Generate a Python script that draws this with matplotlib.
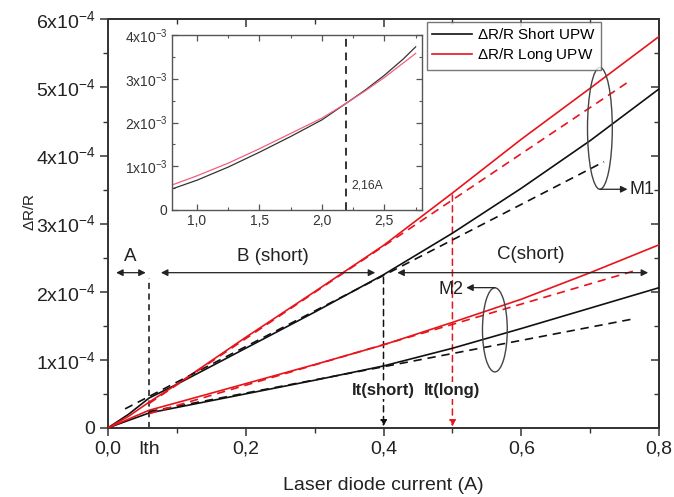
import matplotlib
matplotlib.use('Agg')
import matplotlib.pyplot as plt
from matplotlib.patches import Ellipse
from matplotlib.ticker import MultipleLocator, FuncFormatter
import numpy as np

plt.rcParams['font.family'] = ['Liberation Sans', 'DejaVu Sans']
plt.rcParams['mathtext.default'] = 'regular'

# ---------------- data (dR/R in units of 1e-4) ----------------
x_cur = [0.0, 0.03, 0.06, 0.10, 0.20, 0.30, 0.40, 0.50, 0.60, 0.70, 0.80]
short_m1 = [0.0, 0.20, 0.44, 0.64, 1.17, 1.70, 2.25, 2.86, 3.52, 4.22, 4.98]
long_m1 = [0.0, 0.17, 0.38, 0.64, 1.33, 2.00, 2.68, 3.45, 4.24, 4.99, 5.75]
short_m2 = [0.0, 0.11, 0.22, 0.30, 0.50, 0.70, 0.91, 1.17, 1.46, 1.76, 2.06]
long_m2 = [0.0, 0.13, 0.26, 0.37, 0.65, 0.93, 1.22, 1.55, 1.89, 2.28, 2.69]

fit_short_m1_x = [0.025, 0.72]
fit_short_m1_y = [0.28, 3.91]
fit_long_m1_x = [0.06, 0.755]
fit_long_m1_y = [0.36, 5.08]
fit_short_m2_x = [0.06, 0.762]
fit_short_m2_y = [0.24, 1.60]
fit_long_m2_x = [0.06, 0.765]
fit_long_m2_y = [0.21, 2.31]

i_th = 0.06
it_short = 0.40
it_long = 0.50

# inset (dR/R in units of 1e-3)
x_ins = [0.8, 1.0, 1.25, 1.5, 1.75, 2.0, 2.2, 2.35, 2.5, 2.65, 2.75]
short_ins = [0.48, 0.68, 0.98, 1.32, 1.68, 2.06, 2.45, 2.75, 3.08, 3.45, 3.73]
long_ins = [0.57, 0.78, 1.07, 1.40, 1.75, 2.10, 2.45, 2.73, 3.03, 3.36, 3.58]
ins_vline = 2.195

SC = 1e-4
RED = '#e8141c'
BLK = '#111111'
SPC = '#333333'

fig = plt.figure(figsize=(6.74, 4.97), dpi=100)
ax = fig.add_axes([0.160, 0.139, 0.818, 0.822])

def sc(v, s=SC):
    return [a * s for a in v]

ax.plot(x_cur, sc(short_m1), color=BLK, lw=1.2, label=r'$\Delta$R/R Short UPW', zorder=3)
ax.plot(x_cur, sc(long_m1), color=RED, lw=1.2, label=r'$\Delta$R/R Long UPW', zorder=3)
ax.plot(x_cur, sc(short_m2), color=BLK, lw=1.2, zorder=3)
ax.plot(x_cur, sc(long_m2), color=RED, lw=1.2, zorder=3)

dash = (0, (5, 3.5))
ax.plot(fit_short_m1_x, sc(fit_short_m1_y), color=BLK, lw=1.2, ls=dash, zorder=3)
ax.plot(fit_long_m1_x, sc(fit_long_m1_y), color=RED, lw=1.2, ls=dash, zorder=3)
ax.plot(fit_short_m2_x, sc(fit_short_m2_y), color=BLK, lw=1.2, ls=dash, zorder=3)
ax.plot(fit_long_m2_x, sc(fit_long_m2_y), color=RED, lw=1.2, ls=dash, zorder=3)

ax.set_xlim(0, 0.8)
ax.set_ylim(0, 6e-4)

ax.xaxis.set_major_locator(MultipleLocator(0.2))
ax.xaxis.set_minor_locator(MultipleLocator(0.1))
ax.yaxis.set_major_locator(MultipleLocator(1e-4))
ax.yaxis.set_minor_locator(MultipleLocator(0.5e-4))
ax.xaxis.set_major_formatter(FuncFormatter(lambda v, p: ('%.1f' % v).replace('.', ',')))

def yfmt(v, p):
    n = int(round(v / 1e-4))
    return '0' if n == 0 else '%dx10$^{-4}$' % n
ax.yaxis.set_major_formatter(FuncFormatter(yfmt))
ax.tick_params(which='major', direction='out', length=6, width=1.1, labelsize=14, color=SPC,
               labelcolor='#222222', pad=3)
ax.tick_params(which='minor', direction='out', length=3.5, width=1.0, color=SPC)
for s in ax.spines.values():
    s.set_color(SPC)
    s.set_linewidth(1.4)

secx = ax.secondary_xaxis('top')
secx.xaxis.set_major_locator(MultipleLocator(0.2))
secx.xaxis.set_minor_locator(MultipleLocator(0.1))
secx.tick_params(which='major', direction='in', length=6, width=1.1, color=SPC, labeltop=False)
secx.tick_params(which='minor', direction='in', length=3.5, width=1.0, color=SPC)
secx.spines['top'].set_color(SPC)
secx.spines['top'].set_linewidth(1.4)
secy = ax.secondary_yaxis('right')
secy.yaxis.set_major_locator(MultipleLocator(1e-4))
secy.yaxis.set_minor_locator(MultipleLocator(0.5e-4))
secy.tick_params(which='major', direction='in', length=6, width=1.1, color=SPC, labelright=False)
secy.tick_params(which='minor', direction='in', length=3.5, width=1.0, color=SPC)
secy.spines['right'].set_color(SPC)
secy.spines['right'].set_linewidth(1.4)

ax.set_xlabel('Laser diode current (A)', fontsize=14, labelpad=14, color='#222222')
ax.set_ylabel(r'$\Delta$R/R', fontsize=11, color='#222222')
ax.yaxis.set_label_coords(-0.128, 0.527)

# Ith tick label
ax.text(i_th, -0.19e-4, 'Ith', ha='center', va='top', fontsize=14, color='#222222')

# vertical dashed lines
y_arr = 2.28e-4
ax.plot([i_th, i_th], [0, 2.20e-4], color=BLK, lw=1.1, ls=(0, (4, 3)), zorder=2)
ax.annotate('', xy=(it_short, 0.02e-4), xytext=(it_short, 2.21e-4),
            arrowprops=dict(arrowstyle='-|>', color=BLK, lw=1.1, ls=(0, (4, 3)), mutation_scale=9,
                            shrinkA=0, shrinkB=0), zorder=2)
ax.annotate('', xy=(it_long, 0.02e-4), xytext=(it_long, 3.42e-4),
            arrowprops=dict(arrowstyle='-|>', color=RED, lw=1.1, ls=(0, (4, 3)), mutation_scale=9,
                            shrinkA=0, shrinkB=0), zorder=2)

# region arrows
def harrow(x0, x1, y):
    ax.annotate('', xy=(x0, y), xytext=(x1, y),
                arrowprops=dict(arrowstyle='<|-|>', color='#222222', lw=0.9, mutation_scale=10,
                                shrinkA=0, shrinkB=0), zorder=4)

harrow(0.012, 0.055, y_arr)
harrow(0.077, 0.388, y_arr)
harrow(0.420, 0.784, y_arr)
ax.text(0.032, 2.40e-4, 'A', ha='center', va='bottom', fontsize=13.5, color='#222222')
ax.text(0.240, 2.40e-4, 'B (short)', ha='center', va='bottom', fontsize=13.5, color='#222222')
ax.text(0.613, 2.42e-4, 'C(short)', ha='center', va='bottom', fontsize=13.5, color='#222222')

bb = dict(facecolor='white', edgecolor='none', pad=1.0)
ax.text(it_short, 0.55e-4, 'It(short)', ha='center', va='center', fontsize=12, fontweight='bold',
        color='#222222', bbox=bb, zorder=5)
ax.text(it_long, 0.55e-4, 'It(long)', ha='center', va='center', fontsize=12, fontweight='bold',
        color='#222222', bbox=bb, zorder=5)

# ellipses and labels M1, M2
e1 = Ellipse((0.714, 4.40e-4), 0.036, 1.79e-4, fill=False, edgecolor='#444444', lw=1.0, zorder=4)
ax.add_patch(e1)
ax.annotate('', xy=(0.754, 3.505e-4), xytext=(0.714, 3.505e-4),
            arrowprops=dict(arrowstyle='-|>', color='#222222', lw=0.9, mutation_scale=10,
                            shrinkA=0, shrinkB=0), zorder=4)
ax.text(0.757, 3.505e-4, 'M1', ha='left', va='center', fontsize=13, color='#222222')

e2 = Ellipse((0.5616, 1.44e-4), 0.036, 1.235e-4, fill=False, edgecolor='#444444', lw=1.0, zorder=4)
ax.add_patch(e2)
ax.annotate('', xy=(0.520, 2.06e-4), xytext=(0.5616, 2.06e-4),
            arrowprops=dict(arrowstyle='-|>', color='#222222', lw=0.9, mutation_scale=10,
                            shrinkA=0, shrinkB=0), zorder=4)
ax.text(0.516, 2.04e-4, 'M2', ha='right', va='center', fontsize=13, color='#222222')

leg = ax.legend(loc='upper left', bbox_to_anchor=(0.6335, 0.9557), bbox_transform=fig.transFigure,
                fontsize=11, frameon=True, fancybox=False, handlelength=2.6, handletextpad=0.3,
                borderpad=0.35, labelspacing=0.25, borderaxespad=0)
leg.get_frame().set_edgecolor('#555555')
leg.get_frame().set_linewidth(1.0)

# ---------------- inset ----------------
ins = fig.add_axes([0.255, 0.5775, 0.371, 0.352])
ins.plot(x_ins, sc(short_ins, 1e-3), color='#333333', lw=0.9)
ins.plot(x_ins, sc(long_ins, 1e-3), color='#f06080', lw=0.9)
ins.axvline(ins_vline, color='#333333', lw=1.4, ls=(0, (4, 3)))
ins.text(ins_vline + 0.04, 0.55e-3, '2,16A', fontsize=8.7, ha='left', va='center', color='#333333')
ins.set_xlim(0.8, 2.8)
ins.set_ylim(0, 4e-3)
ins.xaxis.set_major_locator(MultipleLocator(0.5))
ins.xaxis.set_minor_locator(MultipleLocator(0.25))
ins.yaxis.set_major_locator(MultipleLocator(1e-3))
ins.yaxis.set_minor_locator(MultipleLocator(0.5e-3))
ins.xaxis.set_major_formatter(FuncFormatter(lambda v, p: ('%.1f' % v).replace('.', ',')))

def yfmt3(v, p):
    n = int(round(v / 1e-3))
    return '0' if n == 0 else '%dx10$^{-3}$' % n
ins.yaxis.set_major_formatter(FuncFormatter(yfmt3))
ins.tick_params(which='both', direction='in', top=True, right=True, labelsize=10, color='#555555',
                labelcolor='#333333', pad=3)
ins.tick_params(which='major', length=4, width=0.9)
ins.tick_params(which='minor', length=2.5, width=0.8)
for s in ins.spines.values():
    s.set_color('#555555')
    s.set_linewidth(1.0)

fig.savefig('out.png', dpi=100)
